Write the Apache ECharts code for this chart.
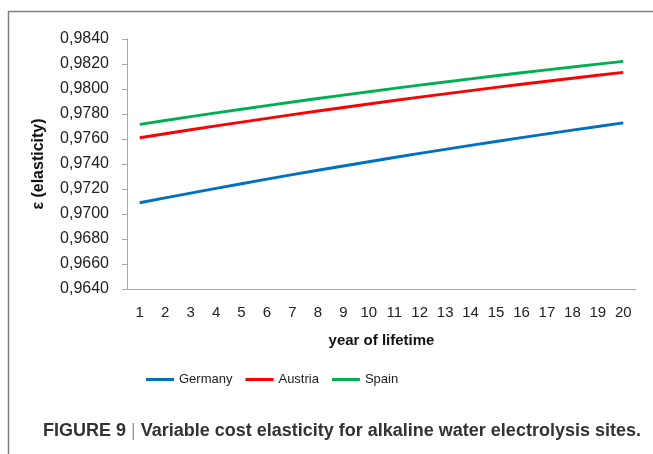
<!DOCTYPE html>
<html>
<head>
<meta charset="utf-8">
<script src="https://cdn.jsdelivr.net/npm/echarts@6/dist/echarts.min.js"></script>
<style>
  html, body { margin: 0; padding: 0; background: #fff; }
  #chart { width: 653px; height: 454px; }
</style>
</head>
<body>
<div id="chart"></div>
<script>
// years on the x axis
const years = ['1','2','3','4','5','6','7','8','9','10','11','12','13','14','15','16','17','18','19','20'];

// elasticity per site
const germany = [0.97090, 0.97129, 0.97167, 0.97205, 0.97242, 0.97279, 0.97315, 0.97350, 0.97384, 0.97418,
                 0.97452, 0.97485, 0.97517, 0.97549, 0.97580, 0.97611, 0.97641, 0.97671, 0.97700, 0.97729];
const austria = [0.97610, 0.97642, 0.97674, 0.97705, 0.97735, 0.97765, 0.97795, 0.97824, 0.97852, 0.97880,
                 0.97908, 0.97935, 0.97961, 0.97987, 0.98013, 0.98038, 0.98062, 0.98086, 0.98110, 0.98133];
const spain   = [0.97717, 0.97748, 0.97779, 0.97809, 0.97838, 0.97867, 0.97896, 0.97924, 0.97951, 0.97978,
                 0.98005, 0.98031, 0.98056, 0.98081, 0.98106, 0.98130, 0.98153, 0.98176, 0.98199, 0.98221];

const seriesNames = ['Germany', 'Austria', 'Spain'];
const seriesColors = ['#0070C0', '#FF0000', '#00B050'];

const chart = echarts.init(document.getElementById('chart'));

const axisGray = '#a6a6a6';
const font = 'Liberation Sans, Arial, sans-serif';

const option = {
    animation: false,
    graphic: [
        {
            type: 'rect',
            shape: { x: 8.5, y: 11.5, width: 700, height: 500 },
            style: { fill: 'none', stroke: '#7f7f7f', lineWidth: 1.5 },
            silent: true
        },
        {
            type: 'text',
            left: 43,
            top: 422,
            style: {
                text: '{a|FIGURE 9}{b| | }{a|Variable cost elasticity for alkaline water electrolysis sites.}',
                rich: {
                    a: { fontFamily: 'Liberation Sans Narrow, Liberation Sans, Arial', fontWeight: 'bold', fontSize: 18, fill: '#333' },
                    b: { fontFamily: 'Liberation Sans', fontSize: 18, fill: '#999' }
                }
            }
        }
    ],
    grid: { left: 127, right: 17, top: 39, bottom: 165 },
    legend: {
        left: 141,
        top: 368,
        icon: 'rect',
        itemWidth: 28,
        itemHeight: 3,
        itemGap: 13,
        textStyle: { fontFamily: font, fontSize: 13, color: '#222' },
        data: seriesNames
    },
    xAxis: {
        type: 'category',
        data: years,
        boundaryGap: true,
        name: 'year of lifetime',
        nameLocation: 'middle',
        nameGap: 44,
        nameTextStyle: { fontFamily: font, fontWeight: 'bold', fontSize: 15, color: '#111' },
        axisLine: { lineStyle: { color: axisGray } },
        axisTick: { alignWithLabel: false, length: 5, lineStyle: { color: axisGray } },
        axisLabel: { fontFamily: font, fontSize: 15, color: '#222', margin: 16 },
        splitLine: { show: false }
    },
    yAxis: {
        type: 'value',
        min: 0.964,
        max: 0.984,
        interval: 0.002,
        name: 'ε (elasticity)',
        nameLocation: 'middle',
        nameGap: 80,
        nameRotate: 90,
        nameTextStyle: { fontFamily: font, fontWeight: 'bold', fontSize: 16, color: '#111' },
        axisLine: { show: true, lineStyle: { color: axisGray } },
        axisTick: { show: true, length: 5, lineStyle: { color: axisGray } },
        axisLabel: {
            fontFamily: font, fontSize: 16, color: '#222', margin: 18,
            formatter: v => v.toFixed(4).replace('.', ',')
        },
        splitLine: { show: false }
    },
    series: [germany, austria, spain].map((d, i) => ({
        name: seriesNames[i],
        type: 'line',
        data: d,
        symbol: 'none',
        smooth: false,
        lineStyle: { width: 3, color: seriesColors[i] },
        itemStyle: { color: seriesColors[i] }
    }))
};

chart.setOption(option);
</script>
</body>
</html>
